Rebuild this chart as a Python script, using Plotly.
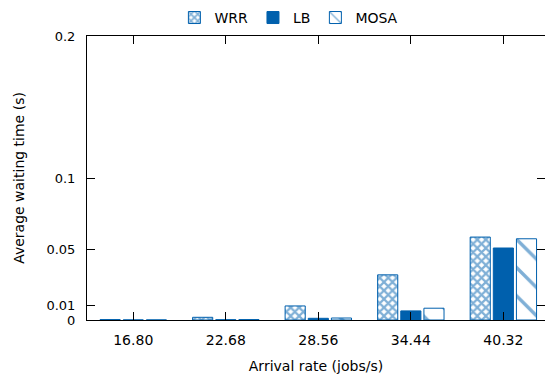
import plotly.graph_objects as go

categories = ["16.80", "22.68", "28.56", "34.44", "40.32"]
wrr = [0.0003, 0.0019, 0.0099, 0.0318, 0.0584]
lb = [0.00005, 0.0002, 0.0012, 0.0064, 0.0507]
mosa = [0.00005, 0.0003, 0.0014, 0.0083, 0.0572]
y_ticks = [0, 0.01, 0.05, 0.1, 0.2]
y_ticklabels = ["0", "0.01", "0.05", "0.1", "0.2"]

BLUE = "#0060ad"
FONT = "DejaVu Sans"

fig = go.Figure()
fig.add_trace(go.Bar(
    name="WRR", x=categories, y=wrr,
    marker=dict(color="white", line=dict(color=BLUE, width=1),
                pattern=dict(shape="x", fgcolor=BLUE, bgcolor="white", size=6, solidity=0.6)),
))
fig.add_trace(go.Bar(
    name="LB", x=categories, y=lb,
    marker=dict(color=BLUE, line=dict(color=BLUE, width=1)),
))
fig.add_trace(go.Bar(
    name="MOSA", x=categories, y=mosa,
    marker=dict(color="white", line=dict(color=BLUE, width=1),
                pattern=dict(shape="\\", fgcolor=BLUE, bgcolor="white", size=20, solidity=0.17)),
))

fig.update_layout(
    width=545, height=386,
    margin=dict(l=87, r=0, t=36, b=66, autoexpand=False),
    paper_bgcolor="white", plot_bgcolor="white",
    font=dict(family=FONT, size=14, color="black"),
    barmode="group", bargap=0.25, bargroupgap=0.13,
    showlegend=True,
    legend=dict(orientation="h", x=0.32, xref="container", xanchor="left",
                y=0.995, yref="container", yanchor="top",
                font=dict(family=FONT, size=14), bgcolor="rgba(0,0,0,0)", itemwidth=30,
                traceorder="normal"),
    xaxis=dict(
        type="category", range=[-0.5, 4.45], automargin=False,
        showline=True, linecolor="black", linewidth=1, mirror="ticks",
        ticks="inside", ticklen=8, tickcolor="black", tickwidth=1,
        showgrid=False, zeroline=False, ticklabelstandoff=7,
        title=dict(text="Arrival rate (jobs/s)", standoff=14, font=dict(family=FONT, size=14)),
    ),
    yaxis=dict(
        range=[0, 0.2], tickvals=y_ticks, ticktext=y_ticklabels, automargin=False,
        showline=True, linecolor="black", linewidth=1, mirror="ticks",
        ticks="inside", ticklen=8, tickcolor="black", tickwidth=1,
        tickfont=dict(family=FONT, size=13),
        showgrid=False, zeroline=False, ticklabelstandoff=8,
        title=dict(text="Average waiting time (s)", standoff=18, font=dict(family=FONT, size=14)),
    ),
)

fig.write_html("out.html")
